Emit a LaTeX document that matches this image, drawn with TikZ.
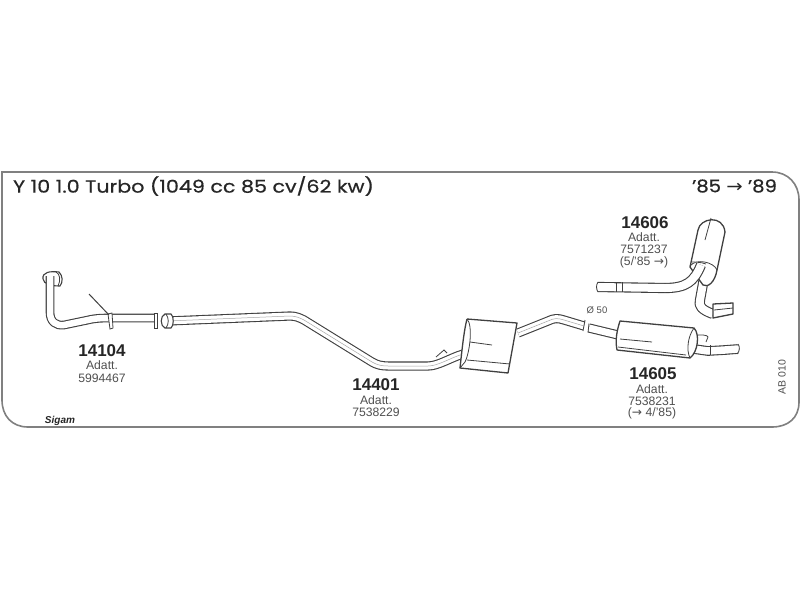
\documentclass[tikz,border=0pt]{standalone}
\usepackage{fontspec}
\setmainfont{Liberation Sans}
\newfontfamily\titlefont[FakeBold=0.5]{Poppins}
\newfontfamily\arrowfont{DejaVu Sans}
\definecolor{ink}{HTML}{404040}
\definecolor{frameink}{HTML}{808080}
\definecolor{txt}{HTML}{262626}
\definecolor{soft}{HTML}{505050}
\newcommand{\arr}{{\arrowfont→}}
\tikzset{
  pipe/.style={draw=ink,line width=1.1pt,double=white,double distance=#1,line join=round},
  pipe/.default=7pt,
  body/.style={draw=ink,line width=1.3pt,fill=white,line join=round},
  thin part/.style={draw=ink,line width=.8pt},
  core/.style={draw=black!35,line width=.5pt},
  code/.style={font=\fontsize{17}{17}\selectfont\bfseries,text=txt,inner sep=0pt},
  small/.style={font=\fontsize{12.2}{12.2}\selectfont,text=soft,inner sep=0pt},
  title/.style={font=\fontsize{17.5}{17.5}\titlefont,text=txt,inner sep=0pt}
}
\begin{document}
\begin{tikzpicture}[x=1pt,y=-1pt]
\useasboundingbox (0,0) rectangle (800,600);
\fill[white] (0,0) rectangle (800,600);
% frame
\draw[frameink,line width=1.6pt] (2,400) -- (2,172) -- (772,172)
  .. controls (788,172) and (799,184) .. (799,200) -- (799,402)
  .. controls (799,418) and (788,427) .. (772,427) -- (28,427)
  .. controls (12,427) and (2,416) .. (2,400);
% front pipe 14104
\draw[thin part,line width=1.1pt,fill=white] (43,279) .. controls (42,272) and (50,271) .. (59,272) .. controls (63,276) and (63,282) .. (60,286)
  .. controls (50,286) and (44,284) .. (43,279);
\draw[pipe=6.5pt] (50,276) -- (50,312) .. controls (50,322) and (56,326) .. (64,325)
  -- (88,320) .. controls (96,318) and (104,318) .. (111,318) -- (154,318);
\draw[thin part] (56,272) .. controls (60,274) and (61,280) .. (58,286);
\draw[thin part,fill=white] (108,314) -- (112,313) -- (113,328) -- (110,329) -- cycle;
\draw[ink,line width=1pt] (89,294) -- (109,315);
\draw[thin part,fill=white] (154,313) -- (157,313) -- (157,328) -- (154,328) -- cycle;
% intermediate pipe 14401
\draw[pipe=7pt] (168,321) -- (290,316) .. controls (296,316) and (300,318) .. (304,320)
  -- (372,362) .. controls (377,365) and (382,366) .. (388,366) -- (428,366)
  .. controls (438,366) and (450,358) .. (463,354);
\draw[core] (168,321) -- (290,316) .. controls (296,316) and (300,318) .. (304,320)
  -- (372,362) .. controls (377,365) and (382,366) .. (388,366) -- (428,366)
  .. controls (438,366) and (450,358) .. (463,354);
\draw[thin part,line width=1.1pt,fill=white] (165,314) .. controls (160,316) and (160,326) .. (165,328) -- (171,328)
  .. controls (174,326) and (174,316) .. (171,314) -- cycle;
\draw[thin part] (166,314) .. controls (169,318) and (169,324) .. (166,328);
\draw[thin part] (436,357) -- (444,350) -- (447,353);
% centre muffler
\draw[body] (467,319) -- (517,323) -- (508,373) -- (460,368) .. controls (462,350) and (464,330) .. (467,319);
\draw[thin part] (467,319) .. controls (473,325) and (470,352) .. (465,362) -- (460,368);
\draw[thin part] (470,342) -- (492,345);
\draw[thin part] (467,360) -- (510,364);
\draw[pipe=7pt] (518,333) -- (548,321) .. controls (554,318) and (558,318) .. (564,320) -- (584,326);
\draw[core] (518,333) -- (548,321) .. controls (554,318) and (558,318) .. (564,320) -- (584,326);
\draw[thin part] (585,320) -- (583,331);
% rear pipe and muffler 14605
\draw[pipe=7pt] (589,328) -- (618,335);
\draw[thin part] (589,323.5) -- (588,332.5);
\draw[thin part] (693,336) .. controls (700,334) and (708,335) .. (708,337) -- (706,342);
\draw[pipe=7.5pt] (694,349) -- (708,351) -- (725,350) -- (738,349);
\draw[thin part] (710,345) -- (710,355);
\draw[thin part] (738,344) .. controls (740,347) and (740,351) .. (737,354);
\draw[body] (620,321) -- (694,328) .. controls (700,334) and (698,352) .. (690,358) -- (617,350)
  .. controls (615,340) and (617,330) .. (620,321) -- cycle;
\draw[thin part] (694,328) .. controls (688,336) and (686,350) .. (690,358);
\draw[thin part] (620,339) -- (652,342);
\draw[thin part] (618,347) -- (686,355);
% muffler 14606
\draw[pipe=8pt] (704,278) -- (700,300) .. controls (698,306) and (702,310) .. (713,314);
\draw[body] (713,304) -- (733,303) -- (733,314) -- (713,318) -- cycle;
\draw[thin part] (714,310) -- (733,308);
\draw[body] (698,230) .. controls (700,218) and (723,214) .. (725,232) -- (717,270)
  .. controls (715,282) and (708,288) .. (703,285) -- (690,267) -- cycle;
\draw[thin part] (711,218) -- (705,240);
\draw[thin part] (690,266) .. controls (696,258) and (714,262) .. (717,270);
\draw[pipe=8pt] (598,287) -- (665,288) .. controls (686,288) and (694,282) .. (701,265);
\draw[thin part,fill=white] (691,262) .. controls (692,262) and (702,262) .. (706,264);
\draw[thin part] (598,282) .. controls (596,285) and (596,289) .. (598,292);
\draw[thin part] (616,282) -- (616,292);
\draw[thin part] (622,282) -- (622,292);
% labels
\node[title,xscale=1.18] (head) at (193.5,186) {Y 10 1.0 Turbo (1049 cc 85 cv/62 kw)};
\node[title,xscale=1.12] (years) at (734.5,186) {’85 \arr{} ’89};
\node[code] (a1) at (102,351) {14104};
\node[small] (a2) at (102,365) {Adatt.};
\node[small] (a3) at (102,378) {5994467};
\node[code] (b1) at (376,385) {14401};
\node[small] (b2) at (376,400) {Adatt.};
\node[small] (b3) at (376,412) {7538229};
\node[code] (c1) at (653,374) {14605};
\node[small] (c2) at (652,389) {Adatt.};
\node[small] (c3) at (652,401) {7538231};
\node[small] (c4) at (652,413) {(\arr{} 4/’85)};
\node[code] (d1) at (645,223) {14606};
\node[small] (d2) at (644,237) {Adatt.};
\node[small] (d3) at (644,249) {7571237};
\node[small] (d4) at (644,262) {(5/’85 \arr)};
\node[font=\fontsize{9.5}{9.5}\selectfont,text=soft,inner sep=0pt] (dia) at (597,310) {Ø 50};
\node[font=\fontsize{10.5}{10.5}\selectfont,text=soft,inner sep=0pt,rotate=90] (ab) at (782,377) {AB 010};
\node[font=\fontsize{10}{10}\selectfont\bfseries\itshape,text=txt,inner sep=0pt] (logo) at (60,421) {Sigam};
\end{tikzpicture}
\end{document}
